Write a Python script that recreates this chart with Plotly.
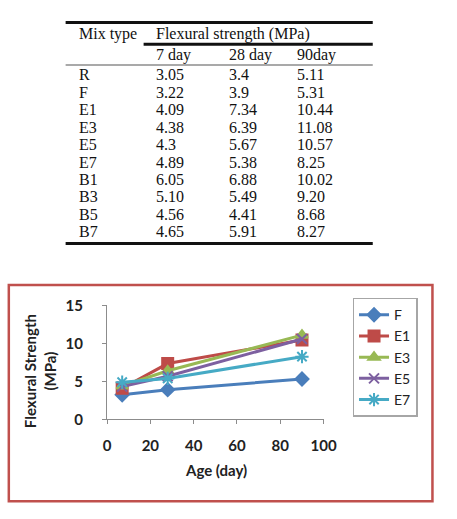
import plotly.graph_objects as go

W, H = 457, 519

# ---------------- data ----------------
mix_types = ["R", "F", "E1", "E3", "E5", "E7", "B1", "B3", "B5", "B7"]
day7 = ["3.05", "3.22", "4.09", "4.38", "4.3", "4.89", "6.05", "5.10", "4.56", "4.65"]
day28 = ["3.4", "3.9", "7.34", "6.39", "5.67", "5.38", "6.88", "5.49", "4.41", "5.91"]
day90 = ["5.11", "5.31", "10.44", "11.08", "10.57", "8.25", "10.02", "9.20", "8.68", "8.27"]
col_heads = ["7 day", "28 day", "90day"]

ages = [7, 28, 90]
series_names = ["F", "E1", "E3", "E5", "E7"]
F_vals = [3.22, 3.9, 5.31]
E1_vals = [4.09, 7.34, 10.44]
E3_vals = [4.38, 6.39, 11.08]
E5_vals = [4.3, 5.67, 10.57]
E7_vals = [4.89, 5.38, 8.25]
x_ticks = [0, 20, 40, 60, 80, 100]
y_ticks = [0, 5, 10, 15]

# ---------------- helpers ----------------
def px(x):
    return x / W

def py(y):
    return 1 - y / H

fig = go.Figure()

colors = ["#4A7EBB", "#BE4B48", "#98B954", "#7D60A0", "#46AAC5"]
symbols = ["diamond", "square", "triangle-up", "x-thin-open", "asterisk-open"]
sizes = [10, 11, 10, 10, 11]
vals = [F_vals, E1_vals, E3_vals, E5_vals, E7_vals]
for name, v, c, s, sz in zip(series_names, vals, colors, symbols, sizes):
    fig.add_trace(go.Scatter(
        x=ages, y=v, name=name, mode="lines+markers",
        line=dict(color=c, width=3),
        marker=dict(symbol=s, size=sz, color=c, line=dict(color=c, width=2)),
    ))

# ---------------- table ----------------
annotations = []
shapes = []
serif = dict(family="Liberation Serif", size=16, color="#111111")

col_x = [76, 156, 232, 302]
def ann(x, y, text, font=serif, xanchor="left"):
    annotations.append(dict(x=px(x), y=py(y), xref="paper", yref="paper",
                            text=text, showarrow=False, xanchor=xanchor,
                            yanchor="middle", font=font))

ann(col_x[0], 25, "Mix type")
ann(156, 25, "Flexural strength (MPa)")
for i, h in enumerate(col_heads):
    ann(col_x[i + 1], 47, h)
row_y0, row_dy = 67, 18.1
for r, m in enumerate(mix_types):
    y = row_y0 + r * row_dy
    ann(col_x[0], y, m)
    ann(col_x[1], y, day7[r])
    ann(col_x[2], y, day28[r])
    ann(col_x[3], y, day90[r])

def hline(x0, x1, y, w, color="#111111"):
    shapes.append(dict(type="line", xref="paper", yref="paper",
                       x0=px(x0), x1=px(x1), y0=py(y), y1=py(y),
                       line=dict(color=color, width=w)))

hline(64, 383, 13, 3)
hline(145, 383, 35.5, 3)
hline(64, 383, 57, 1.2, "#555555")
hline(64, 383, 242, 3)

# ---------------- chart frame ----------------
shapes.append(dict(type="rect", xref="paper", yref="paper",
                   x0=px(5), x1=px(445), y0=py(509), y1=py(285),
                   line=dict(color="#C0504D", width=2.5), fillcolor="rgba(0,0,0,0)",
                   layer="below"))

annotations.append(dict(x=px(37.5), y=py(374), xref="paper", yref="paper",
                        text="<b>Flexural Strength<br>(MPa)</b>", showarrow=False,
                        textangle=-90, xanchor="center", yanchor="middle",
                        font=dict(family="Lato", size=15, color="#222222")))
annotations.append(dict(x=px(220), y=py(477), xref="paper", yref="paper",
                        text="<b>Age (day)</b>", showarrow=False,
                        xanchor="center", yanchor="middle",
                        font=dict(family="Lato", size=15, color="#222222")))

tickfont = dict(family="Lato", size=15, color="#222222", weight="bold")
fig.update_layout(
    width=W, height=H,
    margin=dict(l=0, r=0, t=0, b=0),
    paper_bgcolor="white", plot_bgcolor="white",
    xaxis=dict(domain=[px(107), px(332)], range=[0, 100], tickvals=x_ticks,
               showline=True, linecolor="#8C8C8C", linewidth=1,
               ticks="outside", ticklen=4, tickcolor="#8C8C8C",
               showgrid=False, zeroline=False, tickfont=tickfont,
               ticklabelstandoff=9, anchor="y"),
    yaxis=dict(domain=[py(424), py(306)], range=[0, 15], tickvals=y_ticks,
               showline=True, linecolor="#8C8C8C", linewidth=1,
               ticks="outside", ticklen=4, tickcolor="#8C8C8C",
               showgrid=False, zeroline=False, tickfont=tickfont,
               ticklabelstandoff=16, anchor="x"),
    legend=dict(x=px(362), y=py(298), xanchor="left", yanchor="top",
                bordercolor="#A6A6A6", borderwidth=1.5, bgcolor="white",
                font=dict(family="Lato", size=14, color="#222222"),
                tracegroupgap=0, itemwidth=30),
    annotations=annotations,
    shapes=shapes,
    showlegend=True,
)

fig.write_html("out.html")
